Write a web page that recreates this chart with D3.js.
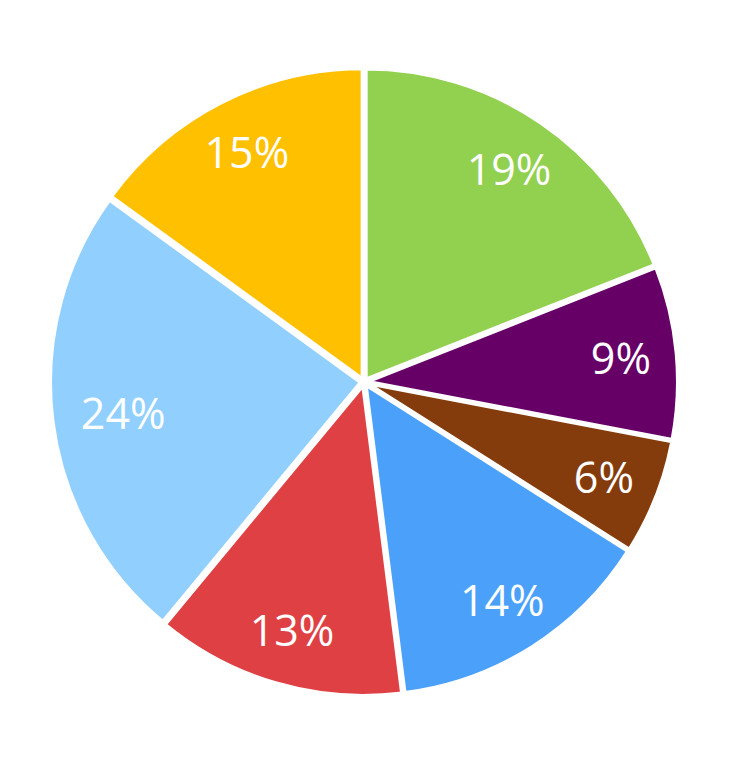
<!DOCTYPE html>
<html>
<head>
  <script src="https://d3js.org/d3.v7.min.js"></script>
  <style>
    body { margin: 0; background: #fff; font-family: 'Open Sans', sans-serif; }
  </style>
</head>
<body>
  <svg width="732" height="765"></svg>
<script>
  var labels = ["A", "B", "C", "D", "E", "F", "G"];
  var values = [19, 9, 6, 14, 13, 24, 15];
  var colors = ["#92d050", "#660066", "#843c0c", "#4ba1f9", "#df4043", "#91d0fe", "#ffc000"];

  var svg = d3.select("svg"),
    cx = 364, cy = 382, radius = 311;

  var pie = d3.pie().sort(null).value(function (d) { return d.value; });
  var arc = d3.arc().innerRadius(0).outerRadius(radius);
  var labelArc = d3.arc().innerRadius(radius * 0.82).outerRadius(radius * 0.82);
  var color = d3.scaleOrdinal().domain(labels).range(colors);

  var data = labels.map(function (l, i) { return { label: l, value: values[i] }; });
  var total = d3.sum(values);

  var g = svg.append("g").attr("transform", "translate(" + cx + "," + cy + ")");

  var slices = g.selectAll(".slice").data(pie(data)).enter().append("g")
    .attr("class", "slice")
    .attr("transform", function (d) {
      var a = (d.startAngle + d.endAngle) / 2, off = 3;
      return "translate(" + (Math.sin(a) * off) + "," + (-Math.cos(a) * off) + ")";
    });

  slices.append("path")
    .attr("d", arc)
    .attr("fill", function (d) { return color(d.data.label); })
    .attr("stroke", "#fff")
    .attr("stroke-width", 4);

  // the big slice's label sits a bit further in
  slices.append("text")
    .attr("transform", function (d) {
      var c = labelArc.centroid(d);
      if (d.data.value > 20) c = [c[0] * 0.94, c[1] * 0.94];
      return "translate(" + c + ")";
    })
    .attr("text-anchor", "middle")
    .attr("dy", "0.38em")
    .attr("fill", "#fff")
    .attr("font-size", 43)
    .text(function (d) { return Math.round(d.data.value / total * 100) + "%"; });
</script>
</body>
</html>
